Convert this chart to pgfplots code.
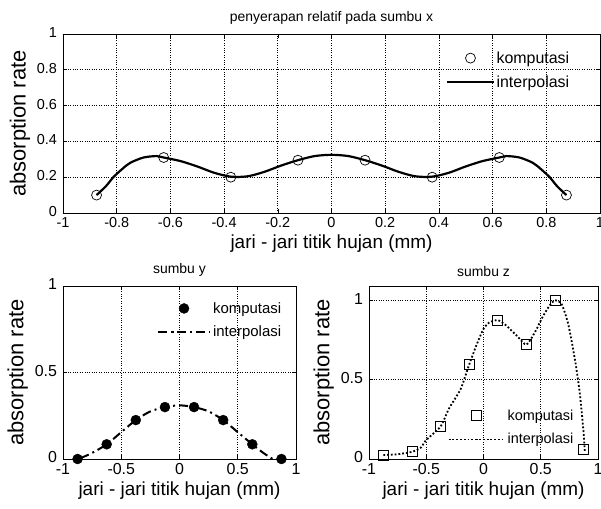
\documentclass[border=0pt]{standalone}
\usepackage{pgfplots}
\pgfplotsset{compat=1.18}
\usepackage{fontspec}
\setmainfont{Liberation Sans}
\begin{document}
\begin{tikzpicture}
\useasboundingbox (0bp,0bp) rectangle (601bp,509bp);
\pgfplotsset{
  every axis/.style={
    scale only axis, anchor=south west,
    xmin=-1, xmax=1, ymin=0,
    grid=major, major grid style={black, dotted, line width=0.7pt},
    tick align=inside, axis line style={line width=0.9pt},
    major tick length=4bp, tick style={black, line width=0.6pt},
    /pgf/number format/assume math mode=true,
    xlabel={jari - jari titik hujan (mm)}, ylabel={absorption rate},
    legend cell align=left,
    xlabel style={font=\fontsize{19}{19}\selectfont},
    ylabel style={font=\fontsize{22}{22}\selectfont},
    title style={font=\fontsize{14}{14}\selectfont},
    yticklabel style={xshift=-2.5bp, yshift=1.5bp},
    xticklabel style={yshift=-1bp},
  },
}
% ---------- top: sumbu x
\begin{axis}[at={(63bp,296bp)}, width=537bp, height=179bp, ymax=1,
  xtick={-1,-0.8,...,1.01}, ytick={0,0.2,...,1.01},
  ticklabel style={font=\fontsize{14.5}{14.5}\selectfont},
  title={penyerapan relatif pada sumbu x},
  legend style={draw=none, fill=none, at={(0.708,0.925)}, anchor=north west,
    font=\fontsize{16}{16}\selectfont, row sep=7bp},
  legend image code/.code={\draw[mark repeat=2,mark phase=2,#1] plot coordinates {(0bp,0bp)(23bp,0bp)(46bp,0bp)};}]
\addplot[only marks, mark=o, mark size=5bp, line width=0.7pt] coordinates {
(-0.875,0.10) (-0.625,0.31) (-0.375,0.20) (-0.125,0.295)
(0.125,0.295) (0.375,0.20) (0.625,0.31) (0.875,0.10)};
\addlegendentry{komputasi}
\addplot[black, line width=2.2pt, smooth] coordinates {
(-0.875,0.10) (-0.84,0.15) (-0.8125,0.20) (-0.78,0.245) (-0.75,0.28) (-0.7,0.31)
(-0.65,0.318) (-0.625,0.31) (-0.5625,0.29) (-0.5,0.26) (-0.4375,0.225) (-0.375,0.203)
(-0.3125,0.205) (-0.25,0.23) (-0.1875,0.265) (-0.125,0.295) (-0.0625,0.318) (0,0.325)
(0.0625,0.318) (0.125,0.295) (0.1875,0.265) (0.25,0.23) (0.3125,0.205) (0.375,0.203)
(0.4375,0.225) (0.5,0.26) (0.5625,0.29) (0.625,0.31) (0.65,0.318) (0.7,0.31)
(0.75,0.28) (0.78,0.245) (0.8125,0.20) (0.84,0.15) (0.875,0.10)};
\addlegendentry{interpolasi}
\end{axis}
% ---------- bottom left: sumbu y
\begin{axis}[at={(63bp,50bp)}, width=233bp, height=173bp, ymax=1,
  xtick={-1,-0.5,0,0.5,1}, ytick={0,0.5,1},
  ticklabel style={font=\fontsize{16}{16}\selectfont},
  title={sumbu y},
  legend style={draw=none, fill=none, at={(0.39,0.93)}, anchor=north west,
    font=\fontsize{15}{15}\selectfont, row sep=7bp},
  legend image code/.code={\draw[mark repeat=2,mark phase=2,#1] plot coordinates {(0bp,0bp)(26bp,0bp)(52bp,0bp)};}]
\addplot[only marks, mark=*, mark size=5bp] coordinates {
(-0.875,0.0) (-0.625,0.085) (-0.375,0.225) (-0.125,0.30)
(0.125,0.30) (0.375,0.225) (0.625,0.085) (0.875,0.0)};
\addlegendentry{komputasi}
\addplot[black, line width=2pt, smooth, dash pattern=on 9bp off 4bp on 2bp off 4bp] coordinates {
(-0.85,0.005) (-0.75,0.035) (-0.625,0.085) (-0.5,0.155) (-0.375,0.225) (-0.25,0.275)
(-0.125,0.30) (0,0.31) (0.125,0.30) (0.25,0.275) (0.375,0.225) (0.5,0.155)
(0.625,0.085) (0.72,0.035) (0.8,0.0)};
\addlegendentry{interpolasi}
\end{axis}
% ---------- bottom right: sumbu z
\begin{axis}[at={(369bp,50bp)}, width=229bp, height=173bp, ymax=1.09,
  xtick={-1,-0.5,0,0.5,1}, ytick={0,0.5,1},
  ticklabel style={font=\fontsize{16}{16}\selectfont},
  title={sumbu z},
  legend style={draw=none, fill=none, at={(0.33,0.31)}, anchor=north west,
    font=\fontsize{14.5}{14.5}\selectfont, row sep=8bp},
  legend image code/.code={\draw[mark repeat=2,mark phase=2,#1] plot coordinates {(0bp,0bp)(28bp,0bp)(56bp,0bp)};}]
\addplot[only marks, mark=square, mark size=5bp, line width=0.8pt] coordinates {
(-0.875,0.025) (-0.625,0.045) (-0.375,0.205) (-0.125,0.595)
(0.125,0.875) (0.375,0.72) (0.625,1.0) (0.875,0.06)};
\addlegendentry{komputasi}
\addplot[black, line width=1.8pt, dotted, smooth, tension=0.4] coordinates {
(-0.875,0.025) (-0.75,0.03) (-0.625,0.045) (-0.55,0.07) (-0.5,0.12) (-0.375,0.205)
(-0.3,0.32) (-0.2,0.44) (-0.125,0.595) (-0.06,0.72) (0,0.82) (0.05,0.86) (0.125,0.875)
(0.2,0.84) (0.3,0.77) (0.375,0.72) (0.45,0.8) (0.52,0.9) (0.58,0.97) (0.625,1.0)
(0.68,0.98) (0.74,0.85) (0.8,0.62) (0.84,0.42) (0.87,0.2) (0.885,0.05)};
\addlegendentry{interpolasi}
\end{axis}
\end{tikzpicture}
\end{document}
